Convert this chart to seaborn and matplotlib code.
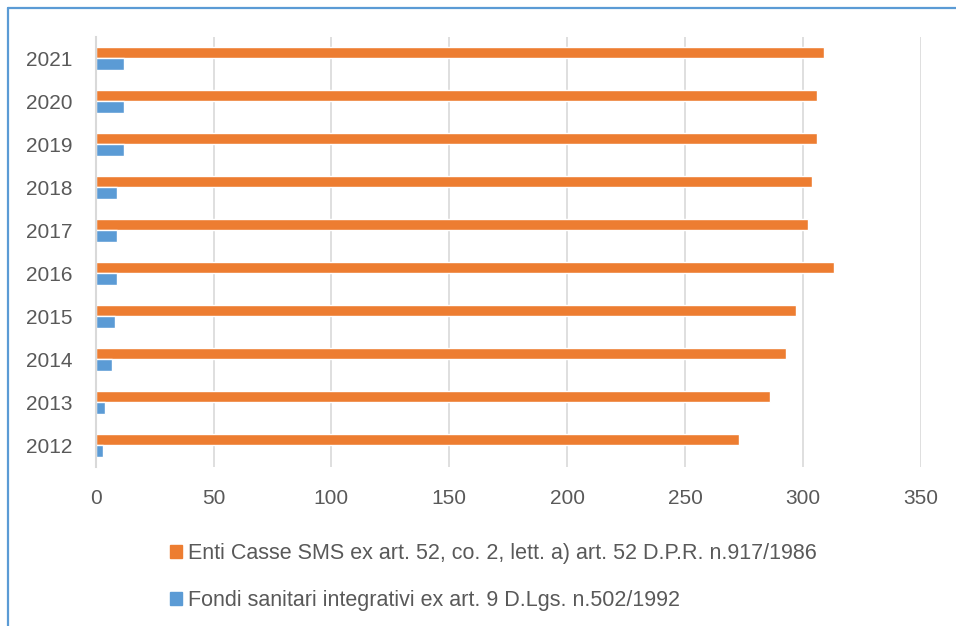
"""Plot Enti Casse vs Fondi sanitari integrativi by year (horizontal bars)"""

import pandas as pd
import seaborn as sns
import matplotlib.pyplot as plt
from matplotlib.lines import Line2D

years = ['2021', '2020', '2019', '2018', '2017', '2016', '2015', '2014', '2013', '2012']
enti_casse = [309, 306, 306, 304, 302, 313, 297, 293, 286, 273]
fondi_sanitari = [12, 12, 12, 9, 9, 9, 8, 7, 4, 3]

series_names = ['Enti Casse SMS ex art. 52, co. 2, lett. a) art. 52 D.P.R. n.917/1986',
                'Fondi sanitari integrativi ex art. 9 D.Lgs. n.502/1992']
colors = ['#ED7D31', '#5B9BD5']
xticks = [0, 50, 100, 150, 200, 250, 300, 350]


def build_df():
    """Long-format table for seaborn"""
    df = pd.DataFrame({'year': years * 2,
                       'value': enti_casse + fondi_sanitari,
                       'series': [series_names[0]] * len(years) + [series_names[1]] * len(years)})
    return df


def main():
    sns.set_style('white')
    plt.rcParams['font.family'] = ['Liberation Sans', 'DejaVu Sans']

    fig = plt.figure(figsize=(9.56, 6.26), dpi=100)
    ax = fig.add_axes([0.1001, 0.2540, 0.8630, 0.6869])

    df = build_df()
    sns.barplot(data=df, ax=ax, x='value', y='year', hue='series', order=years,
                hue_order=series_names, palette=colors, width=0.53, orient='h',
                saturation=1, legend=False)

    ax.set_xlim(0, 350)
    ax.set_xticks(xticks)
    ax.set_xlabel('')
    ax.set_ylabel('')
    ax.grid(axis='x', color='#D9D9D9', linewidth=1.2)
    ax.set_axisbelow(True)
    for side in ['top', 'right', 'bottom']:
        ax.spines[side].set_visible(False)
    ax.spines['left'].set_color('#D9D9D9')
    ax.spines['left'].set_linewidth(1.5)
    ax.tick_params(axis='both', length=0, labelsize=15, labelcolor='#595959')
    ax.tick_params(axis='x', pad=16)
    ax.tick_params(axis='y', pad=17)

    handles = [plt.Rectangle((0, 0), 1, 1, color=c) for c in colors]
    fig.legend(handles, series_names, loc='upper left', bbox_to_anchor=(0.1666, 0.149),
               frameon=False, fontsize=15.5, labelcolor='#595959', handlelength=0.55,
               handleheight=0.55, handletextpad=0.3, labelspacing=1.2, borderpad=0)

    # outer border like the source (left and top edges only)
    fig.add_artist(Line2D([0.0085, 0.0085], [0, 0.988], color='#5B9BD5', linewidth=1.6,
                          transform=fig.transFigure))
    fig.add_artist(Line2D([0.0085, 1.0], [0.988, 0.988], color='#5B9BD5', linewidth=1.6,
                          transform=fig.transFigure))

    plt.savefig('out.png', dpi=100)


if __name__ == '__main__':
    main()
